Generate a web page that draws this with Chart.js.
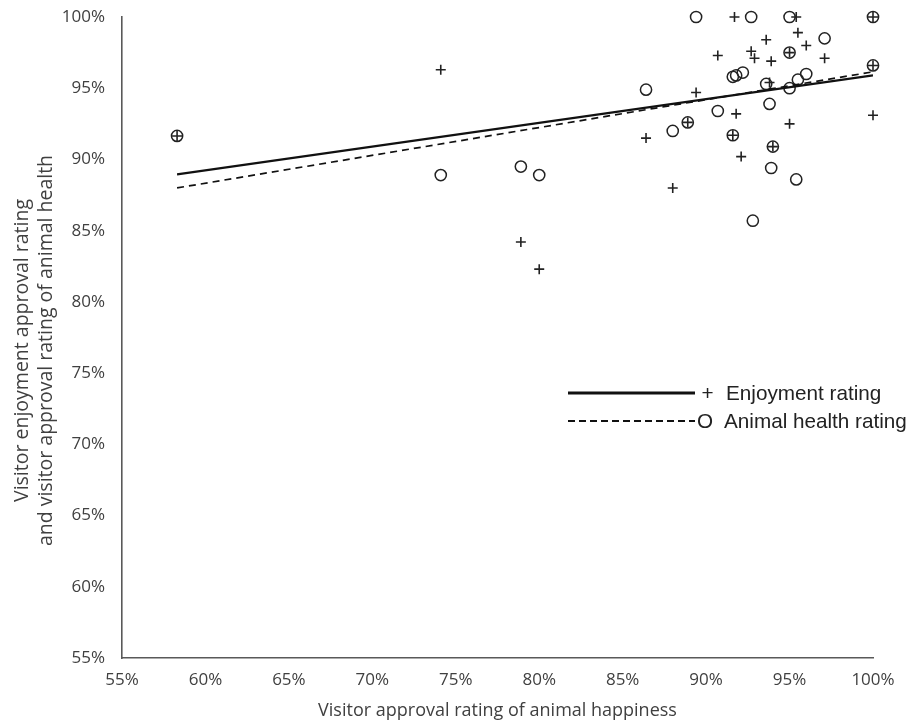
<!DOCTYPE html>
<html>
<head>
<meta charset="utf-8">
<script src="https://cdn.jsdelivr.net/npm/chart.js@4/dist/chart.umd.min.js"></script>
<style>
html,body{margin:0;padding:0;background:#fff;}
#wrap{position:relative;width:909px;height:723px;}
</style>
</head>
<body>
<div id="wrap"><canvas id="c" width="909" height="723"></canvas></div>
<script>
// Enjoyment rating (+) points: x = happiness %, y = enjoyment %
const enjoyX = [58.3, 74.1, 78.9, 80.0, 86.4, 88.0, 88.9, 89.4, 90.7, 91.6, 91.7, 91.8, 92.1, 92.7, 92.9, 93.6, 93.8, 93.9, 94.0, 95.0, 95.0, 95.4, 95.5, 96.0, 97.1, 100, 100, 100];
const enjoyY = [91.65, 96.3, 84.2, 82.3, 91.5, 88.0, 92.6, 94.7, 97.3, 91.7, 100, 93.2, 90.2, 97.6, 97.1, 98.4, 95.4, 96.9, 90.9, 97.5, 92.5, 100, 98.9, 98.0, 97.1, 100, 96.6, 93.1];
// Animal health rating (O) points
const healthX = [58.3, 74.1, 78.9, 80.0, 86.4, 88.0, 88.9, 89.4, 90.7, 91.6, 91.6, 91.8, 92.2, 92.7, 92.8, 93.6, 93.8, 93.9, 94.0, 95.0, 95.0, 95.0, 95.4, 95.5, 96.0, 97.1, 100, 100];
const healthY = [91.65, 88.9, 89.5, 88.9, 94.9, 92.0, 92.6, 100, 93.4, 91.7, 95.8, 95.9, 96.1, 100, 85.7, 95.3, 93.9, 89.4, 90.9, 100, 97.5, 95.0, 88.6, 95.6, 96.0, 98.5, 100, 96.6];
// Trendline endpoints
const enjoyTrendX = [58.3, 100];
const enjoyTrendY = [88.95, 95.9];
const healthTrendX = [58.3, 100];
const healthTrendY = [88.0, 96.15];
// Axis ticks
const tickValues = [55, 60, 65, 70, 75, 80, 85, 90, 95, 100];
const seriesNames = ['Enjoyment rating', 'Animal health rating'];
const legendMarks = ['+', 'O'];
const xTitle = 'Visitor approval rating of animal happiness';
const yTitle = ['Visitor enjoyment approval rating', 'and visitor approval rating of animal health'];

const pts = (xs, ys) => xs.map((x, i) => ({x: x, y: ys[i]}));
const INK = '#222222';
const AXIS = '#595959';
const TXT = '#404040';
const FAM = '"Open Sans", "Noto Sans", sans-serif';
const TICKFONT = {family: FAM, size: 17};

const decorPlugin = {
  id: 'decor',
  afterDraw(chart) {
    const ctx = chart.ctx;
    const area = chart.chartArea;
    ctx.save();
    // rotated two-line y-axis title
    ctx.fillStyle = TXT;
    ctx.font = '19.5px ' + FAM;
    ctx.textAlign = 'center';
    ctx.textBaseline = 'middle';
    const cy = (area.top + area.bottom) / 2 + 13;
    [22, 46].forEach((x, i) => {
      ctx.save();
      ctx.translate(x, cy);
      ctx.rotate(-Math.PI / 2);
      ctx.fillText(yTitle[i], 0, 0);
      ctx.restore();
    });
    // legend
    const rows = [
      {y: 393, dash: [], lw: 3, mx: 707.5, tx: 726},
      {y: 421, dash: [7, 4], lw: 2, mx: 705, tx: 724}
    ];
    rows.forEach((r, i) => {
      ctx.beginPath();
      ctx.setLineDash(r.dash);
      ctx.lineWidth = r.lw;
      ctx.strokeStyle = '#111';
      ctx.moveTo(568, r.y);
      ctx.lineTo(695, r.y);
      ctx.stroke();
      ctx.setLineDash([]);
      ctx.fillStyle = '#222';
      ctx.font = '20.7px "Liberation Sans", Arial, sans-serif';
      ctx.textBaseline = 'middle';
      ctx.textAlign = 'center';
      ctx.fillText(legendMarks[i], r.mx, r.y + 1);
      ctx.textAlign = 'left';
      ctx.fillText(seriesNames[i], r.tx, r.y + 1.5);
    });
    ctx.restore();
  }
};

new Chart(document.getElementById('c'), {
  type: 'scatter',
  data: {
    datasets: [
      {
        label: seriesNames[0] + ' trend',
        type: 'line',
        data: pts(enjoyTrendX, enjoyTrendY),
        borderColor: '#111',
        borderWidth: 2.2,
        pointRadius: 0,
        fill: false
      },
      {
        label: seriesNames[1] + ' trend',
        type: 'line',
        data: pts(healthTrendX, healthTrendY),
        borderColor: '#111',
        borderWidth: 1.7,
        borderDash: [7, 5],
        pointRadius: 0,
        fill: false
      },
      {
        label: seriesNames[0],
        data: pts(enjoyX, enjoyY),
        pointStyle: 'cross',
        pointRadius: 5,
        pointBorderWidth: 1.6,
        borderColor: INK,
        backgroundColor: INK,
        clip: false
      },
      {
        label: seriesNames[1],
        data: pts(healthX, healthY),
        pointStyle: 'circle',
        pointRadius: 5.6,
        pointBorderWidth: 1.5,
        borderColor: INK,
        backgroundColor: 'rgba(0,0,0,0)',
        clip: false
      }
    ]
  },
  options: {
    responsive: false,
    animation: false,
    layout: {padding: {top: 17, right: 36, left: 0, bottom: 0}},
    plugins: {legend: {display: false}, tooltip: {enabled: false}},
    scales: {
      x: {
        type: 'linear',
        min: 55, max: 100,
        afterBuildTicks: s => { s.ticks = tickValues.map(v => ({value: v})); },
        afterFit: s => { s.height = 65; s.paddingLeft = 0; s.paddingRight = 0; },
        grid: {display: false, drawTicks: false},
        border: {color: AXIS, width: 1.6},
        ticks: {callback: v => v + '%', color: TXT, font: TICKFONT, padding: 12, maxRotation: 0},
        title: {display: true, text: xTitle, color: TXT, font: {family: FAM, size: 18}, padding: {top: 4, bottom: 1}}
      },
      y: {
        type: 'linear',
        min: 55, max: 100,
        afterBuildTicks: s => { s.ticks = tickValues.map(v => ({value: v})); },
        afterFit: s => { s.width = 122; s.paddingTop = 0; s.paddingBottom = 0; },
        grid: {display: false, drawTicks: false},
        border: {color: AXIS, width: 1.6},
        ticks: {callback: v => v + '%', color: TXT, font: TICKFONT, padding: 17},
        title: {display: false}
      }
    }
  },
  plugins: [decorPlugin]
});
</script>
</body>
</html>
